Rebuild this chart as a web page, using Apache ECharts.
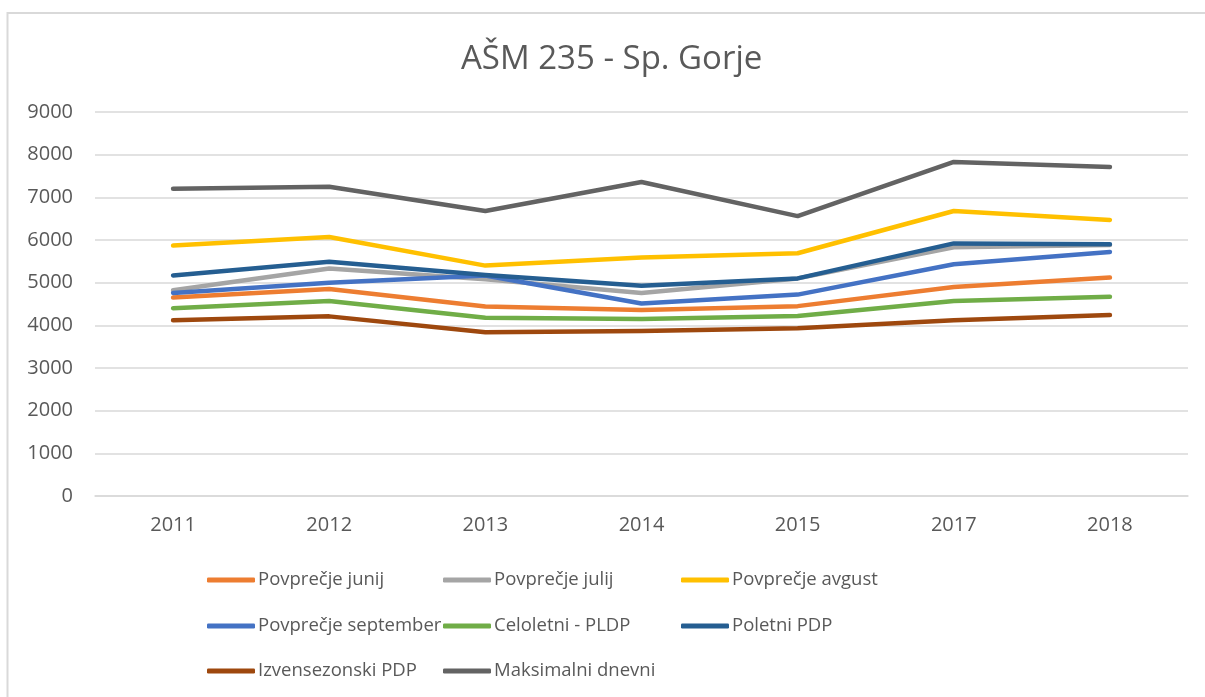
<!DOCTYPE html>
<html>
<head>
    <meta charset="utf-8">
    <title>AŠM 235 - Sp. Gorje</title>
    <script src="https://cdn.jsdelivr.net/npm/echarts@6/dist/echarts.min.js"></script>
    <style>
        html, body { margin: 0; padding: 0; background: #fff; }
        #main { width: 1205px; height: 697px; }
    </style>
</head>
<body>
<div id="main"></div>
<script>
    // leta
    var years = ['2011', '2012', '2013', '2014', '2015', '2017', '2018'];
    // vrednosti po serijah
    var junij = [4650, 4850, 4440, 4360, 4450, 4900, 5120];
    var julij = [4820, 5330, 5080, 4760, 5100, 5830, 5880];
    var avgust = [5870, 6070, 5400, 5590, 5690, 6680, 6470];
    var september = [4760, 5000, 5170, 4510, 4720, 5430, 5720];
    var celoletni = [4400, 4570, 4180, 4150, 4220, 4570, 4670];
    var poletni = [5170, 5490, 5180, 4930, 5100, 5920, 5900];
    var izvensezonski = [4120, 4210, 3840, 3870, 3930, 4120, 4240];
    var maksimalni = [7200, 7250, 6680, 7360, 6560, 7830, 7710];

    var names = ['Povprečje junij', 'Povprečje julij', 'Povprečje avgust',
        'Povprečje september', 'Celoletni - PLDP', 'Poletni PDP',
        'Izvensezonski PDP', 'Maksimalni dnevni'];
    var values = [junij, julij, avgust, september, celoletni, poletni, izvensezonski, maksimalni];
    var colors = ['#ED7D31', '#A5A5A5', '#FFC000', '#4472C4', '#70AD47', '#255E91', '#9E480E', '#636363'];

    var chart = echarts.init(document.getElementById('main'));

    var series = names.map(function (n, i) {
        return {
            name: n,
            type: 'line',
            data: values[i],
            symbol: 'none',
            color: colors[i],
            lineStyle: { width: 4.5, cap: 'round', join: 'round' },
            emphasis: { disabled: true }
        };
    });

    // legenda: 3 stolpci, 3 vrstice
    var colLeft = [202, 438, 676];
    var rowTop = [563, 609, 654];
    var legends = names.map(function (n, i) {
        return {
            data: [n],
            left: colLeft[i % 3],
            top: rowTop[Math.floor(i / 3)],
            icon: 'roundRect',
            itemWidth: 48,
            itemHeight: 5,
            itemGap: 0,
            textStyle: { color: '#595959', fontSize: 18.5, fontFamily: 'Open Sans', lineHeight: 24, padding: [0, 0, 0, -2] },
            selectedMode: false
        };
    });

    var option = {
        backgroundColor: '#fff',
        animation: false,
        title: {
            text: 'AŠM 235 - Sp. Gorje',
            left: 456,
            top: 38,
            textStyle: { color: '#595959', fontSize: 33, fontWeight: 'normal', fontFamily: 'Open Sans' }
        },
        legend: legends,
        grid: { left: 95, right: 17, top: 112, bottom: 201, containLabel: false },
        xAxis: {
            type: 'category',
            data: years,
            boundaryGap: true,
            axisLine: { lineStyle: { color: '#d9d9d9', width: 1.5 } },
            axisTick: { show: false },
            axisLabel: { color: '#595959', fontSize: 20, fontFamily: 'Open Sans', margin: 19 }
        },
        yAxis: {
            type: 'value',
            min: 0,
            max: 9000,
            interval: 1000,
            axisLine: { show: false },
            axisTick: { show: false },
            splitLine: { lineStyle: { color: '#d9d9d9', width: 1.5 } },
            axisLabel: {
                color: '#595959', fontSize: 20, fontFamily: 'Open Sans', margin: 22,
                formatter: function (v) { return String(v); }
            }
        },
        graphic: [{
            type: 'rect',
            shape: { x: 7.5, y: 13, width: 1300, height: 800 },
            style: { fill: 'none', stroke: '#d9d9d9', lineWidth: 2 },
            silent: true
        }],
        series: series
    };

    chart.setOption(option);
</script>
</body>
</html>
